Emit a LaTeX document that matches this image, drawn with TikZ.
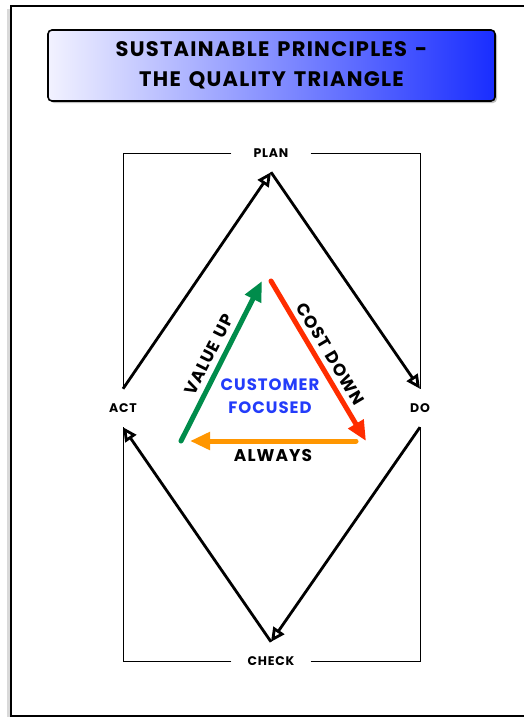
\documentclass[tikz,border=0pt]{standalone}
\usepackage{fontspec}
\setmainfont{Poppins}[LetterSpace=6, WordSpace=1.4]
\usetikzlibrary{arrows.meta, positioning, calc, shadows}

\definecolor{valuegreen}{RGB}{0,140,75}
\definecolor{costred}{RGB}{255,45,0}
\definecolor{alwaysorange}{RGB}{255,150,0}
\definecolor{focusblue}{RGB}{35,60,250}
\definecolor{paleblue}{RGB}{242,242,255}
\definecolor{deepblue}{RGB}{25,45,255}

\begin{document}
\begin{tikzpicture}[
    x=1pt, y=-1pt,
    titlebox/.style={draw, line width=1.6pt, rounded corners=4pt, minimum width=447pt, minimum height=71pt, align=center, left color=paleblue, right color=deepblue, drop shadow={shadow xshift=2pt, shadow yshift=-2pt, opacity=.5}, font=\fontsize{21}{30}\selectfont\bfseries},
    phase/.style={minimum width=79pt, minimum height=38pt, inner sep=0pt, font=\fontsize{12.5}{14}\selectfont\bfseries},
    bracket/.style={draw, line width=0.6pt},
    cycle/.style={-{Triangle[open, length=14pt, width=13pt]}, line width=2.8pt},
    trend/.style={-{Triangle[length=20pt, width=17pt]}, line width=5pt, line cap=round},
    tag/.style={text=black, font=\fontsize{17}{20}\selectfont\bfseries},
    focus/.style={text=focusblue, align=center, font=\fontsize{16.5}{23}\selectfont\bfseries}
]
\useasboundingbox (0,0) rectangle (523,717);
% page frame
\draw[line width=1.6pt, fill=white, drop shadow={shadow xshift=-4pt, shadow yshift=-3pt, opacity=.3}] (11,6) rectangle (545,716);

\node[titlebox] (title) at (271.5,65.5) {SUSTAINABLE PRINCIPLES -\\THE QUALITY TRIANGLE};

% the four phases
\node[phase] (plan) at (271,153) {PLAN};
\node[phase] (do) at (420,408) {DO};
\node[phase] (check) at (271,661) {CHECK};
\node[phase] (act) at (123,408) {ACT};

\draw[bracket] (plan.west) -| (act.north);
\draw[bracket] (plan.east) -| (do.north);
\draw[bracket] (check.west) -| (act.south);
\draw[bracket] (check.east) -| (do.south);

\draw[cycle] (act.north) -- (plan.south);
\draw[cycle] (plan.south) -- (do.north);
\draw[cycle] (do.south) -- (check.north);
\draw[cycle] (check.north) -- (act.south);

% quality triangle
\coordinate (apex) at (266,281);
\coordinate (lowleft) at (181,441);
\coordinate (lowright) at (366,441);

\draw[trend, valuegreen] (lowleft) -- node[tag, sloped, above=2pt] {VALUE UP} ([xshift=-4pt]apex);
\draw[trend, costred] ([xshift=5pt]apex) -- node[tag, sloped, above=2pt] {COST DOWN} (lowright);
\draw[trend, alwaysorange] ([xshift=-10pt]lowright) -- node[tag, below=3pt] {ALWAYS} ([xshift=9pt]lowleft);

\node[focus] (customer) at (270,396) {CUSTOMER\\FOCUSED};
\end{tikzpicture}
\end{document}
